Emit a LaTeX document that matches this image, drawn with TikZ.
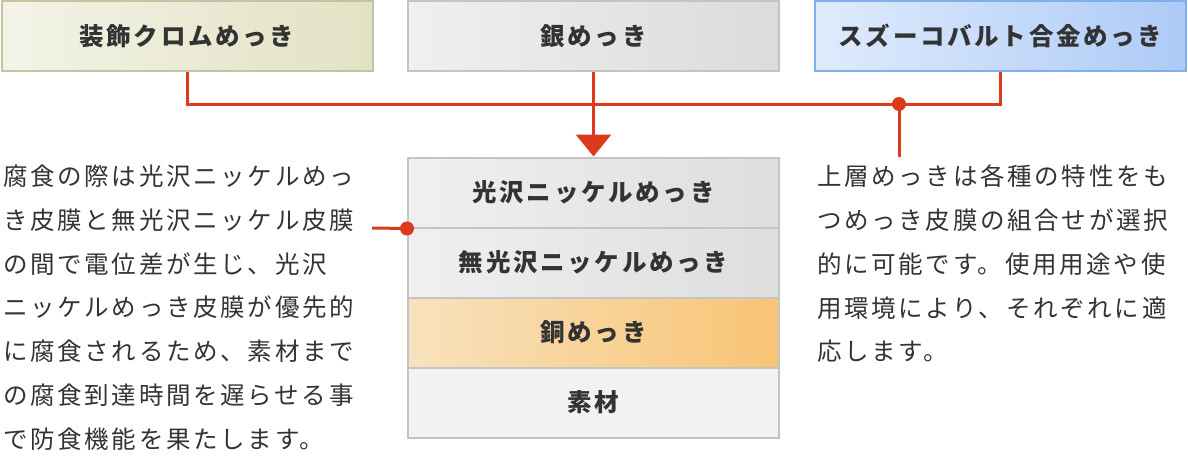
\documentclass[tikz,border=0pt]{standalone}
\usepackage{fontspec}
\setmainfont{Noto Sans CJK JP}
\newfontfamily\jpfont{Noto Sans CJK JP}[LetterSpace=11]
\usetikzlibrary{arrows.meta}
\definecolor{wirered}{HTML}{DC3A1C}
\definecolor{inkgray}{HTML}{333333}
\definecolor{rimgray}{HTML}{C4C4C4}
\definecolor{decoL}{HTML}{F3F3E8}
\definecolor{decoR}{HTML}{E2E2C4}
\definecolor{decoRim}{HTML}{C4C4A0}
\definecolor{cobaltL}{HTML}{DFEBFC}
\definecolor{cobaltR}{HTML}{ADCBF7}
\definecolor{cobaltRim}{HTML}{80B0EA}
\definecolor{copperL}{HTML}{F8E2BE}
\definecolor{copperR}{HTML}{F8C474}
\begin{document}
\begin{tikzpicture}[x=1pt,y=-1pt,
  platebox/.style={draw=rimgray,line width=2pt,minimum width=371pt,minimum height=70pt,inner sep=0pt,
    font=\jpfont\fontsize{24.5}{28}\selectfont\bfseries,text=inkgray},
  wire/.style={draw=wirered,line width=3pt},
  note/.style={anchor=north west,inner sep=0pt,align=left,text=inkgray,
    font=\jpfont\fontsize{24.5}{43.7}\selectfont}]
\useasboundingbox (0,0) rectangle (1188,455);

% Top row of plating choices
\node[platebox,draw=decoRim,left color=decoL,right color=decoR] (deco) at (187,36) {装飾クロムめっき};
\node[platebox,left color=gray!12,right color=gray!28] (silver) at (593.5,36) {銀めっき};
\node[platebox,draw=cobaltRim,left color=cobaltL,right color=cobaltR] (cobalt) at (1000.5,36) {スズーコバルト合金めっき};

% Layer stack
\node[platebox,left color=gray!12,right color=gray!26] (glossy) at (593.5,192.5) {光沢ニッケルめっき};
\node[platebox,left color=gray!12,right color=gray!26] (matte) at (593.5,262.5) {無光沢ニッケルめっき};
\node[platebox,left color=copperL,right color=copperR] (copper) at (593.5,332.5) {銅めっき};
\node[platebox,fill=gray!10] (base) at (593.5,402.5) {素材};

% Connectors
\coordinate (bus) at (593.5,104);
\coordinate (tap) at (899,104);
\coordinate (tapend) at (899,157);
\coordinate (leftend) at (372,228);
\draw[wire] (deco.south) |- (bus) -| (cobalt.south);
\draw[wire] (silver.south) -- (bus);
\draw[wire,-{Triangle[width=35pt,length=22pt]}] (bus) -- (glossy.north);
\draw[wire] (tap) -- (tapend);
\fill[wirered] (tap) circle (7pt);
\draw[wire] (leftend) -- (glossy.south west);
\fill[wirered] (glossy.south west) circle (7pt);

% Notes
\node[note] (leftnote) at (3,165) {腐食の際は光沢ニッケルめっ\\き皮膜と無光沢ニッケル皮膜\\の間で電位差が生じ、光沢\\ニッケルめっき皮膜が優先的\\に腐食されるため、素材まで\\の腐食到達時間を遅らせる事\\で防食機能を果たします。};
\node[note] (rightnote) at (817,165) {上層めっきは各種の特性をも\\つめっき皮膜の組合せが選択\\的に可能です。使用用途や使\\用環境により、それぞれに適\\応します。};
\end{tikzpicture}
\end{document}
